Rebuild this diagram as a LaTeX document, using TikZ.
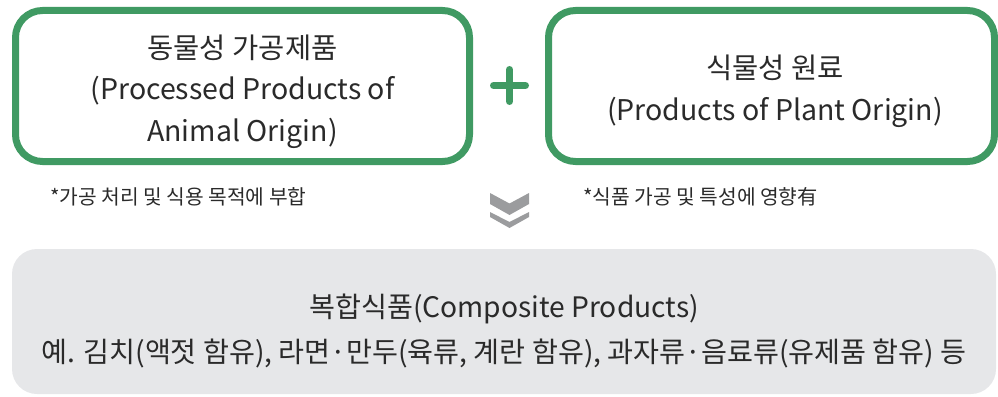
\documentclass[tikz,border=0pt]{standalone}
\usepackage{fontspec}
\setmainfont{Noto Sans CJK KR}
\usetikzlibrary{positioning}
\definecolor{boxgreen}{HTML}{409A63}
\definecolor{chevgray}{HTML}{9B9C9E}
\definecolor{panelgray}{HTML}{E6E7E9}
\definecolor{inkgray}{HTML}{2A2A2A}

\tikzset{
  srcbox/.style={draw=boxgreen, line width=7pt, rounded corners=27pt,
    minimum height=151pt},
  srctext/.style={align=center, text=inkgray, inner sep=0pt,
    font=\fontsize{28.5}{41.5}\selectfont},
  note/.style={anchor=west, text=inkgray, inner sep=0pt,
    font=\fontsize{20.3}{24}\selectfont},
  paneltext/.style={align=center, text=inkgray, inner sep=0pt,
    font=\fontsize{28.2}{45}\selectfont}
}

\begin{document}
\begin{tikzpicture}[x=1pt, y=-1pt]

  \useasboundingbox (0,0) rectangle (998,396);

  % Define nodes
  \node[srcbox, minimum width=454pt] (animal) at (242.5,86) {};
  \node[srcbox, minimum width=446pt] (plant) at (771.5,86) {};
  \node[srctext] (animaltext) at (242.5,91.5)
    {동물성 가공제품\\(Processed Products of\\Animal Origin)};
  \node[srctext] (planttext) at (775,91.5)
    {식물성 원료\\(Products of Plant Origin)};
  \coordinate (plus) at (509.5,85.5);
  \node[note] (animalnote) at (50,197) {*가공 처리 및 식용 목적에 부합};
  \node[note] (plantnote) at (583,197) {*식품 가공 및 특성에 영향有};
  \coordinate (chev) at (509.5,193);
  \fill[panelgray, rounded corners=25pt] (12,249) rectangle (996,394);
  \node[paneltext] (composite) at (504,330.5)
    {복합식품(Composite Products)\\예. 김치(액젓 함유), 라면·만두(육류, 계란 함유), 과자류·음료류(유제품 함유) 등};

  % Plus sign
  \draw[boxgreen, line width=7pt, line cap=round]
    ([xshift=-16pt]plus) -- ([xshift=16pt]plus)
    ([yshift=-16pt]plus) -- ([yshift=16pt]plus);

  % Chevrons
  \fill[chevgray] ([xshift=-19.5pt]chev) -- ([yshift=-10.5pt]chev)
    -- ([xshift=19.5pt]chev) -- ([xshift=19.5pt, yshift=-11pt]chev)
    -- ([yshift=-22pt]chev) -- ([xshift=-19.5pt, yshift=-11pt]chev) -- cycle;
  \fill[chevgray] ([xshift=-19.5pt, yshift=-19pt]chev) -- ([yshift=-29pt]chev)
    -- ([xshift=19.5pt, yshift=-19pt]chev) -- ([xshift=19.5pt, yshift=-24pt]chev)
    -- ([yshift=-35pt]chev) -- ([xshift=-19.5pt, yshift=-24pt]chev) -- cycle;

\end{tikzpicture}
\end{document}
